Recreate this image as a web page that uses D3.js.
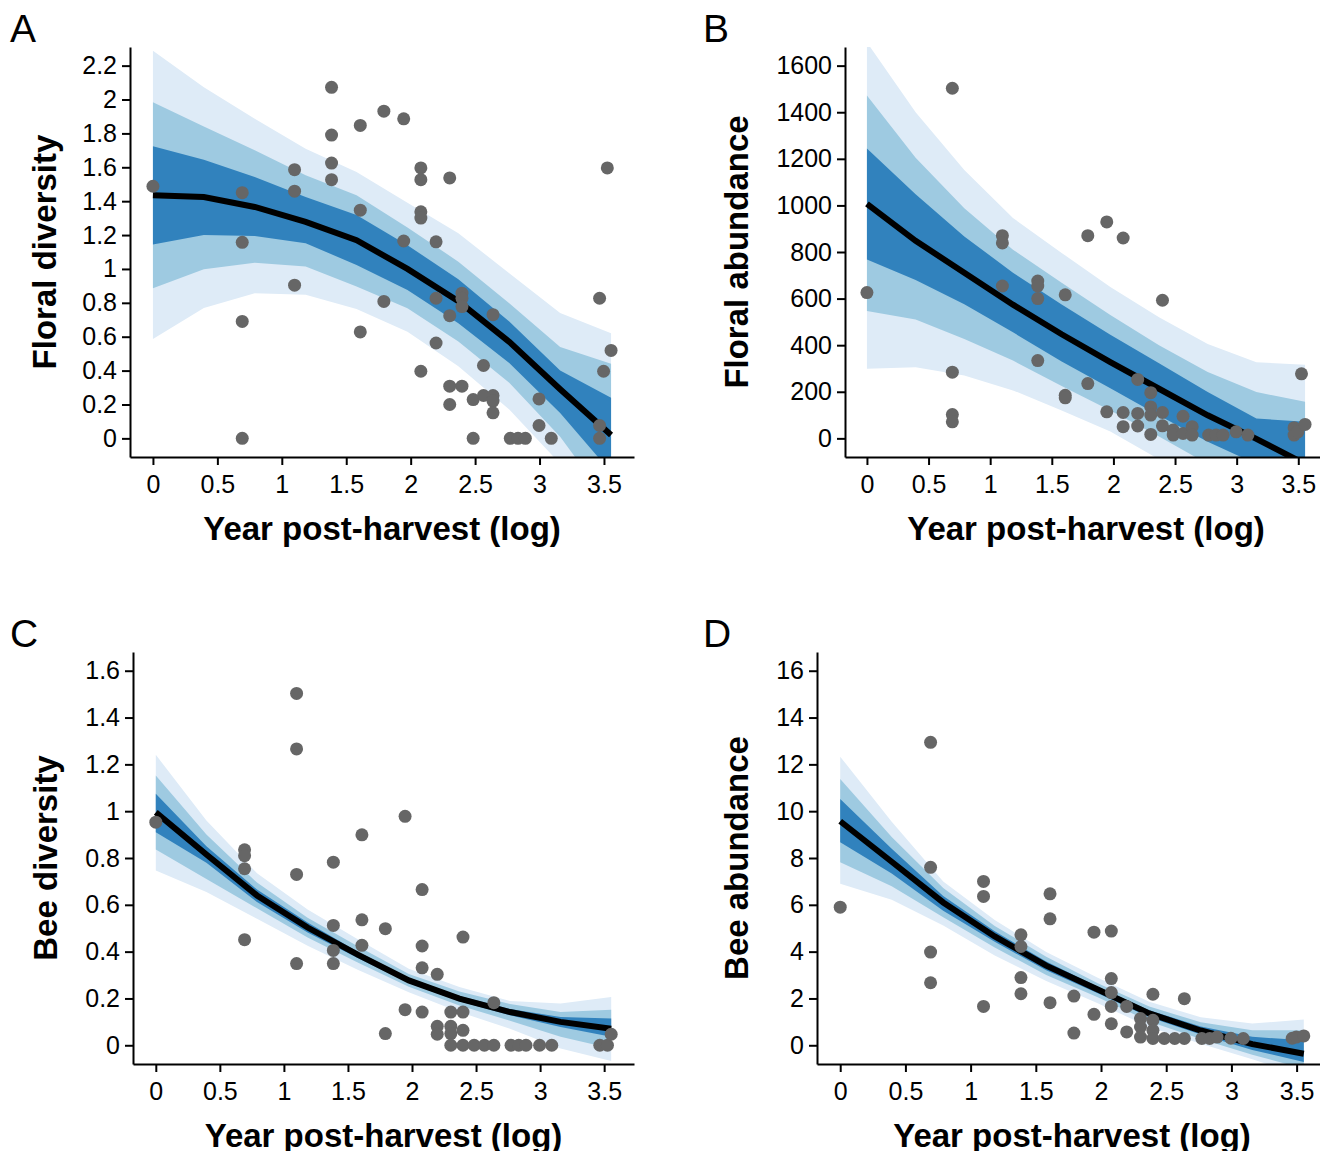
<!DOCTYPE html>
<meta charset="utf-8">
<style>
body { margin: 0; background: #fff; }
svg { font-family: "Liberation Sans", Arial, Helvetica, sans-serif; }
.axis path, .axis line { stroke: #000; stroke-width: 2; fill: none; }
.axis text { font-size: 25px; fill: #000; }
.title { font-size: 33px; font-weight: bold; }
.letter { font-size: 39px; }
</style>
<body>
<script src="https://cdn.jsdelivr.net/npm/d3@7"></script>
<script>
// x values are log(year post-harvest)
var gridX = [0, 0.395, 0.79, 1.185, 1.58, 1.975, 2.37, 2.765, 3.16, 3.555];
var xTicks = [0, 0.5, 1, 1.5, 2, 2.5, 3, 3.5];

// A - floral diversity
var aFit  = [1.435, 1.425, 1.366, 1.278, 1.17, 1.0, 0.81, 0.57, 0.29, 0.02];
var aHi50 = [1.724, 1.645, 1.543, 1.425, 1.318, 1.14, 0.939, 0.69, 0.40, 0.24];
var aLo50 = [1.145, 1.20, 1.194, 1.151, 1.024, 0.875, 0.68, 0.445, 0.15, -0.2];
var aHi80 = [1.984, 1.841, 1.70, 1.553, 1.435, 1.245, 1.043, 0.798, 0.54, 0.44];
var aLo80 = [0.886, 0.998, 1.037, 1.014, 0.896, 0.768, 0.572, 0.328, 0.01, -0.4];
var aHi95 = [2.288, 2.072, 1.886, 1.71, 1.572, 1.39, 1.21, 0.975, 0.74, 0.62];
var aLo95 = [0.586, 0.769, 0.857, 0.847, 0.763, 0.63, 0.425, 0.17, -0.15, -0.6];
var aPtX = [0, 0.693,0.693,0.693,0.693, 1.099,1.099,1.099, 1.386,1.386,1.386,1.386,
  1.609,1.609,1.609, 1.792,1.792, 1.946,1.946, 2.079,2.079,2.079,2.079,2.079,
  2.197,2.197,2.197, 2.303,2.303,2.303,2.303, 2.398,2.398,2.398,2.398, 2.485,2.485,
  2.565,2.565, 2.639,2.639,2.639,2.639, 2.773, 2.833, 2.89, 2.996,2.996, 3.091,
  3.466,3.466,3.466, 3.497, 3.526, 3.555];
var aPtY = [1.488, 1.45,1.157,0.69,0, 1.586,1.459,0.904, 2.072,1.79,1.625,1.527,
  1.847,1.347,0.628, 1.931,0.808, 1.886,1.165, 1.596,1.527,1.337,1.30,0.396,
  1.16,0.827,0.563, 1.537,0.724,0.308,0.2, 0.857,0.827,0.778,0.308, 0.229,0,
  0.43,0.253, 0.73,0.253,0.22,0.151, 0, 0, 0, 0.233,0.076, 0,
  0.827,0.076,0, 0.396, 1.596, 0.519];
var aTicks = [0, 0.2, 0.4, 0.6, 0.8, 1, 1.2, 1.4, 1.6, 1.8, 2, 2.2];

// B - floral abundance
var bFit  = [1007, 848, 711, 574, 447, 327, 213, 99, -2, -110];
var bHi50 = [1244, 1048, 867, 711, 575, 445, 322, 199, 85, 71];
var bLo50 = [768, 680, 576, 455, 330, 215, 98, -15, -110, -250];
var bHi80 = [1472, 1205, 988, 810, 668, 530, 400, 285, 199, 157];
var bLo80 = [547, 510, 427, 334, 225, 120, 8, -110, -200, -350];
var bHi95 = [1700, 1400, 1152, 946, 796, 650, 520, 405, 327, 316];
var bLo95 = [299, 305, 270, 206, 120, 30, -90, -200, -300, -450];
var bPtX = [0, 0.693,0.693,0.693,0.693, 1.099,1.099,1.099, 1.386,1.386,1.386,1.386,
  1.609,1.609,1.609, 1.792,1.792, 1.946,1.946, 2.079,2.079,2.079,
  2.197,2.197,2.197, 2.303,2.303,2.303,2.303, 2.398,2.398,2.398, 2.485,2.485,
  2.565,2.565, 2.639,2.639, 2.773, 2.833, 2.89, 2.996, 3.091,
  3.466,3.466, 3.497, 3.526, 3.555];
var bPtY = [626, 1503,284,102,71, 870,839,654, 675,654,600,334,
  616,185,174, 870,235, 929,114, 860,111,50,
  253,107,53, 196,135,100,17, 593,111,54, 36,14,
  95,21, 50,14, 14, 14, 14, 28, 14,
  46,14, 28, 277, 60];
var bTicks = [0, 200, 400, 600, 800, 1000, 1200, 1400, 1600];

// C - bee diversity
var cFit  = [0.995, 0.815, 0.64, 0.503, 0.386, 0.277, 0.199, 0.142, 0.10, 0.071];
var cHi50 = [1.074, 0.85, 0.665, 0.524, 0.398, 0.288, 0.21, 0.155, 0.121, 0.114];
var cLo50 = [0.91, 0.78, 0.612, 0.482, 0.372, 0.266, 0.188, 0.128, 0.078, 0.036];
var cHi80 = [1.152, 0.90, 0.695, 0.545, 0.422, 0.305, 0.23, 0.176, 0.142, 0.152];
var cLo80 = [0.836, 0.71, 0.585, 0.46, 0.352, 0.25, 0.17, 0.105, 0.036, -0.014];
var cHi95 = [1.241, 0.96, 0.735, 0.58, 0.452, 0.327, 0.249, 0.189, 0.178, 0.206];
var cLo95 = [0.747, 0.655, 0.54, 0.425, 0.322, 0.227, 0.142, 0.071, -0.014, -0.067];
var cPtX = [0, 0.693,0.693,0.693,0.693, 1.099,1.099,1.099,1.099, 1.386,1.386,1.386,1.386,
  1.609,1.609,1.609, 1.792,1.792, 1.946,1.946, 2.079,2.079,2.079,2.079,
  2.197,2.197,2.197, 2.303,2.303,2.303,2.303, 2.398,2.398,2.398,2.398,
  2.485, 2.565, 2.639,2.639, 2.773, 2.833, 2.89, 2.996, 3.091,
  3.466, 3.526, 3.555];
var cPtY = [0.953, 0.835,0.81,0.754,0.451, 1.503,1.266,0.73,0.349, 0.782,0.512,0.405,0.349,
  0.899,0.536,0.427, 0.498,0.05, 0.978,0.152, 0.665,0.424,0.331,0.142,
  0.303,0.081,0.047, 0.142,0.081,0.05,0, 0.462,0.142,0.064,0,
  0, 0, 0.182,0, 0, 0, 0, 0, 0,
  0, 0, 0.047];
var cTicks = [0, 0.2, 0.4, 0.6, 0.8, 1, 1.2, 1.4, 1.6];

// D - bee abundance
var dFit  = [9.57, 7.84, 6.1, 4.65, 3.4, 2.38, 1.36, 0.63, 0.05, -0.36];
var dHi50 = [10.52, 8.4, 6.38, 4.87, 3.58, 2.5, 1.5, 0.8, 0.36, 0.21];
var dLo50 = [8.67, 7.34, 5.75, 4.42, 3.2, 2.22, 1.2, 0.46, -0.2, -0.71];
var dHi80 = [11.38, 8.9, 6.72, 5.1, 3.78, 2.65, 1.66, 0.98, 0.64, 0.64];
var dLo80 = [7.82, 6.79, 5.47, 4.18, 3.0, 2.05, 1.02, 0.27, -0.4, -1.0];
var dHi95 = [12.33, 9.55, 7.0, 5.35, 3.98, 2.88, 1.86, 1.2, 0.93, 1.1];
var dLo95 = [6.9, 6.22, 5.12, 3.84, 2.75, 1.8, 0.78, 0.06, -0.6, -1.3];
var dPtX = [0, 0.693,0.693,0.693,0.693, 1.099,1.099,1.099, 1.386,1.386,1.386,1.386,
  1.609,1.609,1.609, 1.792,1.792, 1.946,1.946, 2.079,2.079,2.079,2.079,2.079,
  2.197,2.197, 2.303,2.303,2.303, 2.398,2.398,2.398,2.398,
  2.485, 2.565, 2.639,2.639, 2.773, 2.833, 2.89, 2.996, 3.091,
  3.466, 3.497, 3.555];
var dPtY = [5.9, 12.94,7.6,3.98,2.67, 7.0,6.36,1.66, 4.72,4.22,2.89,2.2,
  6.47,5.4,1.82, 2.1,0.52, 4.83,1.32, 4.88,2.85,2.25,1.66,0.92,
  1.66,0.57, 1.14,0.78,0.35, 2.18,1.07,0.64,0.29,
  0.29, 0.29, 1.99,0.29, 0.29, 0.29, 0.35, 0.3, 0.29,
  0.3, 0.35, 0.4];
var dTicks = [0, 2, 4, 6, 8, 10, 12, 14, 16];

var svg = d3.select("body").append("svg")
    .attr("width", 1320)
    .attr("height", 1151);

var panels = [
  {id: "A", ylab: "Floral diversity", left: 130, right: 634, top: 47, bottom: 457, yDom: [-0.11, 2.31],
   fit: aFit, lo50: aLo50, hi50: aHi50, lo80: aLo80, hi80: aHi80, lo95: aLo95, hi95: aHi95,
   px: aPtX, py: aPtY, yTicks: aTicks, letterX: 10, letterY: 42, ylabX: 56},
  {id: "B", ylab: "Floral abundance", left: 845, right: 1327, top: 47, bottom: 457, yDom: [-80, 1680],
   fit: bFit, lo50: bLo50, hi50: bHi50, lo80: bLo80, hi80: bHi80, lo95: bLo95, hi95: bHi95,
   px: bPtX, py: bPtY, yTicks: bTicks, letterX: 703, letterY: 42, ylabX: 748},
  {id: "C", ylab: "Bee diversity", left: 133, right: 634, top: 652, bottom: 1064, yDom: [-0.08, 1.68],
   fit: cFit, lo50: cLo50, hi50: cHi50, lo80: cLo80, hi80: cHi80, lo95: cLo95, hi95: cHi95,
   px: cPtX, py: cPtY, yTicks: cTicks, letterX: 10, letterY: 647, ylabX: 57},
  {id: "D", ylab: "Bee abundance", left: 817, right: 1327, top: 652, bottom: 1064, yDom: [-0.8, 16.8],
   fit: dFit, lo50: dLo50, hi50: dHi50, lo80: dLo80, hi80: dHi80, lo95: dLo95, hi95: dHi95,
   px: dPtX, py: dPtY, yTicks: dTicks, letterX: 703, letterY: 647, ylabX: 748}
];

panels.forEach(function(p) {
  var x = d3.scaleLinear().domain([-0.178, 3.733]).range([p.left, p.right]);
  var y = d3.scaleLinear().domain(p.yDom).range([p.bottom, p.top]);

  svg.append("clipPath").attr("id", "clip" + p.id)
    .append("rect")
      .attr("x", p.left).attr("y", p.top)
      .attr("width", p.right - p.left).attr("height", p.bottom - p.top);

  var g = svg.append("g").attr("clip-path", "url(#clip" + p.id + ")");

  // credible bands, widest first
  var bands = [["lo95", "hi95", "#deebf7"], ["lo80", "hi80", "#9ecae1"], ["lo50", "hi50", "#3182bd"]];
  bands.forEach(function(b) {
    var area = d3.area()
        .x(function(d, i) { return x(gridX[i]); })
        .y0(function(d, i) { return y(p[b[0]][i]); })
        .y1(function(d, i) { return y(p[b[1]][i]); });
    g.append("path").datum(gridX).attr("d", area).attr("fill", b[2]);
  });

  // fitted line
  var line = d3.line()
      .x(function(d, i) { return x(gridX[i]); })
      .y(function(d) { return y(d); });
  g.append("path").datum(p.fit).attr("d", line)
      .attr("fill", "none").attr("stroke", "#000").attr("stroke-width", 6);

  // observations
  g.selectAll("circle")
      .data(p.px)
    .enter().append("circle")
      .attr("cx", function(d) { return x(d); })
      .attr("cy", function(d, i) { return y(p.py[i]); })
      .attr("r", 6.5)
      .attr("fill", "#666666");

  // axes
  svg.append("g")
      .attr("class", "axis")
      .attr("transform", "translate(0," + p.bottom + ")")
      .call(d3.axisBottom(x).tickValues(xTicks).tickSize(8).tickSizeOuter(0).tickPadding(10)
        .tickFormat(function(d) { return String(d); }));
  svg.append("g")
      .attr("class", "axis")
      .attr("transform", "translate(" + p.left + ",0)")
      .call(d3.axisLeft(y).tickValues(p.yTicks).tickSize(8).tickSizeOuter(0).tickPadding(5)
        .tickFormat(function(d) { return String(+d.toFixed(1)); }));
  svg.selectAll(".axis").attr("font-size", null).attr("font-family", null);

  // axis titles
  svg.append("text")
      .attr("class", "title")
      .attr("x", (p.left + p.right) / 2)
      .attr("y", p.bottom + 83)
      .attr("text-anchor", "middle")
      .text("Year post-harvest (log)");
  svg.append("text")
      .attr("class", "title")
      .attr("transform", "translate(" + p.ylabX + "," + ((p.top + p.bottom) / 2) + ") rotate(-90)")
      .attr("text-anchor", "middle")
      .text(p.ylab);

  // panel letter
  svg.append("text")
      .attr("class", "letter")
      .attr("x", p.letterX)
      .attr("y", p.letterY)
      .text(p.id);
});
</script>
</body>
